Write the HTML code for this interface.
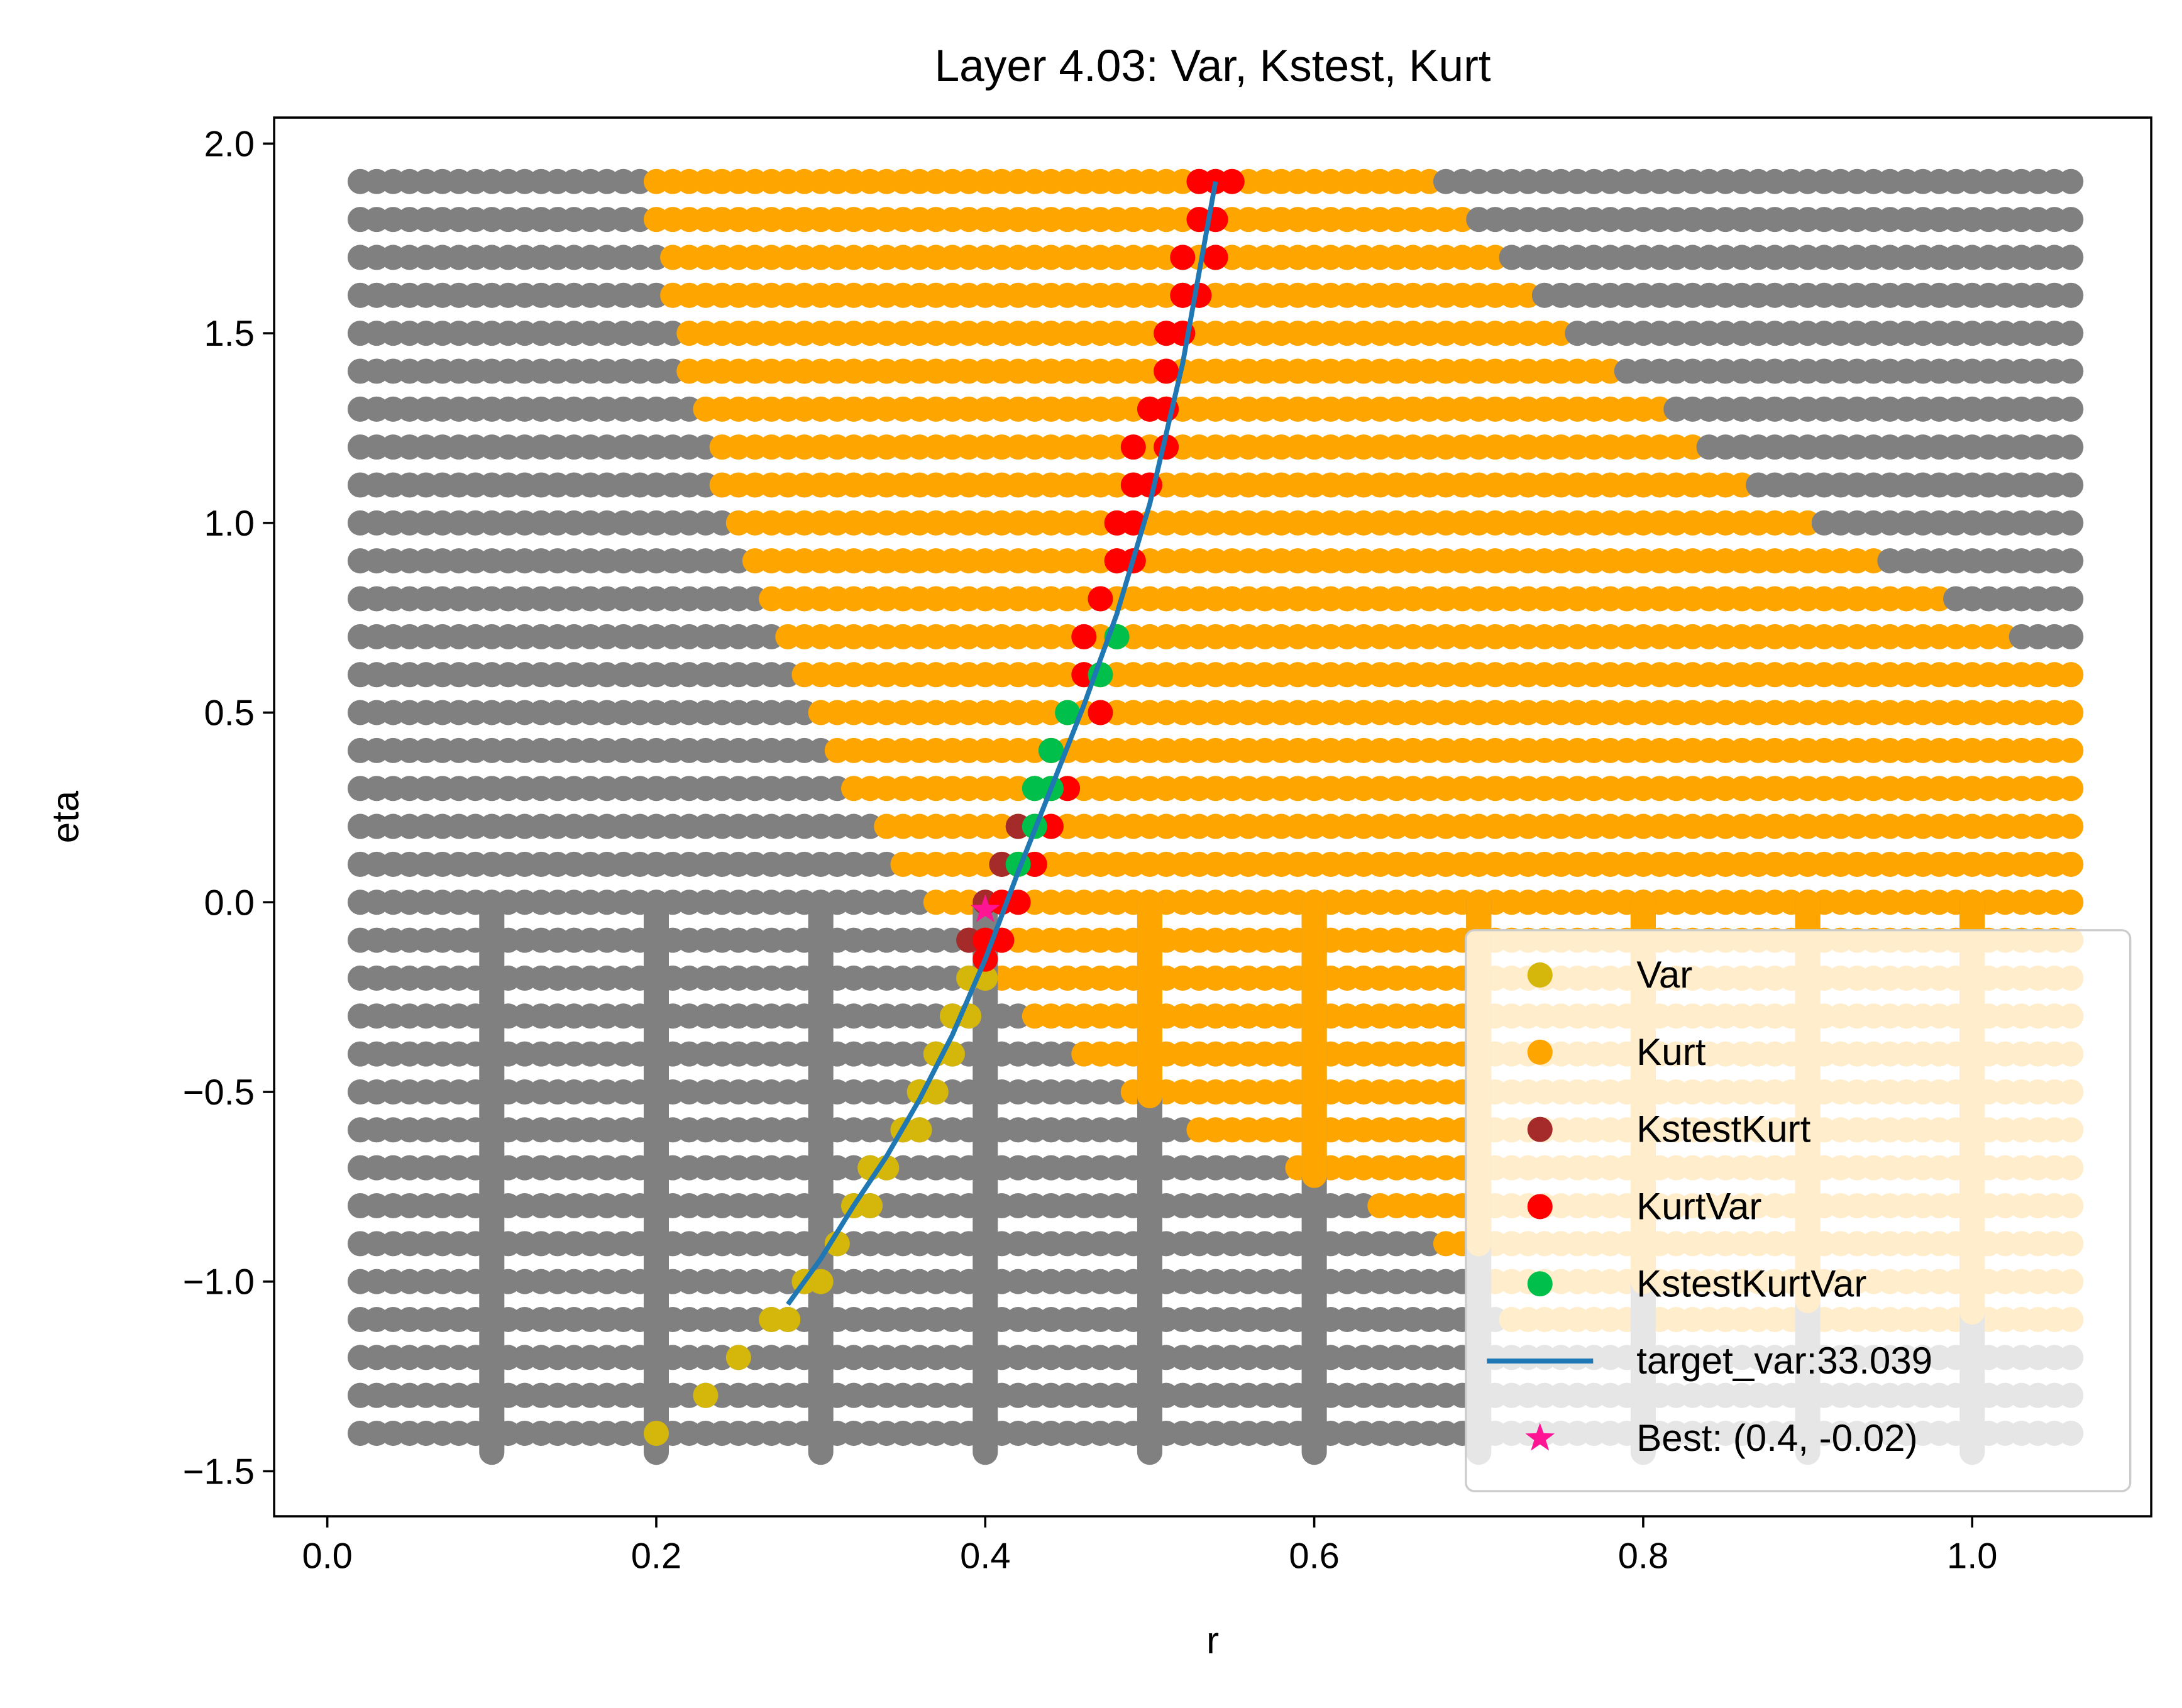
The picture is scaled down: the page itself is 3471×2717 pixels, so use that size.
<!DOCTYPE html>
<html><head><meta charset="utf-8"><style>html,body{margin:0;padding:0;background:#fff}svg{display:block}</style></head>
<body>
<svg id="chart" width="3471" height="2717" viewBox="0 0 1560 1221" xmlns="http://www.w3.org/2000/svg" font-family="Liberation Sans, DejaVu Sans, sans-serif">
<rect x="0" y="0" width="1560" height="1221" fill="#fff"/>
<g id="plot"></g>
<g id="axes"></g>
</svg>
<script>
// ---- data ----
const etaRows   = [1.9,1.8,1.7,1.6,1.5,1.4,1.3,1.2,1.1,1.0,0.9,0.8,0.7,0.6,0.5,0.4,0.3,0.2,0.1,0.0,-0.1,-0.2,-0.3,-0.4,-0.5,-0.6,-0.7,-0.8,-0.9,-1.0,-1.1,-1.2,-1.3,-1.4];
const kurtStart = [0.2,0.2,0.21,0.21,0.22,0.22,0.23,0.24,0.24,0.25,0.26,0.27,0.28,0.29,0.30,0.31,0.32,0.34,0.35,0.37,0.40,0.41,0.43,0.46,0.49,0.53,0.59,0.64,0.68,0.70,0.72,null,null,null];
const kurtEnd   = [0.67,0.69,0.71,0.73,0.75,0.78,0.81,0.83,0.86,0.90,0.94,0.98,1.02,1.06,1.06,1.06,1.06,1.06,1.06,1.06,1.06,1.06,1.06,1.06,1.06,1.06,1.06,1.06,1.06,1.06,1.06,null,null,null];
const columnsR  = [0.1,0.2,0.3,0.4,0.5,0.6,0.7,0.8,0.9,1.0];
const colOrangeMin = [null,null,null,null,-0.51,-0.72,-0.9,-1.0,-1.05,-1.08];
const varEta = [-1.4,-1.3,-1.2,-1.1,-1.1,-1.0,-1.0,-0.9,-0.8,-0.8,-0.7,-0.7,-0.6,-0.6,-0.5,-0.5,-0.4,-0.4,-0.3,-0.3,-0.2,-0.2];
const varR   = [0.2,0.23,0.25,0.27,0.28,0.29,0.30,0.31,0.32,0.33,0.33,0.34,0.35,0.36,0.36,0.37,0.37,0.38,0.38,0.39,0.39,0.40];
const redEta = [1.9,1.9,1.9,1.8,1.8,1.7,1.7,1.6,1.6,1.5,1.5,1.4,1.3,1.3,1.2,1.2,1.1,1.1,1.0,1.0,0.9,0.9,0.8,0.7,0.6,0.5,0.4,0.3,0.2,0.1,0.0,0.0,-0.1,-0.1,-0.15];
const redR   = [0.53,0.54,0.55,0.53,0.54,0.52,0.54,0.52,0.53,0.51,0.52,0.51,0.50,0.51,0.49,0.51,0.49,0.50,0.48,0.49,0.48,0.49,0.47,0.46,0.46,0.47,0.44,0.45,0.44,0.43,0.41,0.42,0.40,0.41,0.40];
const brownEta = [0.2,0.1,0.0,-0.1];
const brownR   = [0.42,0.41,0.40,0.39];
const greenEta = [0.7,0.6,0.5,0.4,0.3,0.3,0.2,0.1];
const greenR   = [0.48,0.47,0.45,0.44,0.43,0.44,0.43,0.42];
const lineR   = [0.28,0.30,0.32,0.34,0.36,0.38,0.40,0.42,0.44,0.46,0.48,0.50,0.52,0.54];
const lineEta = [-1.06,-0.94,-0.8,-0.67,-0.52,-0.35,-0.15,0.08,0.3,0.52,0.76,1.05,1.42,1.9];
const bestR = 0.4, bestEta = -0.02;
const xTicks = [0.0,0.2,0.4,0.6,0.8,1.0];
const yTicks = [-1.5,-1.0,-0.5,0.0,0.5,1.0,1.5,2.0];

// ---- axes functions ----
const X = r => 234 + r*1176;
const Y = e => 645 - e*271.2;
const NS = 'http://www.w3.org/2000/svg';
const plot = document.getElementById('plot');
const axes = document.getElementById('axes');
function mk(tag, attrs, parent){const el=document.createElementNS(NS,tag);for(const k in attrs)el.setAttribute(k,attrs[k]);parent.appendChild(el);return el;}
const R = 9;
function dot(r,e,color,g){return mk('circle',{cx:X(r),cy:Y(e),r:R,fill:color},g);}

const gridG = mk('g',{},plot);


etaRows.forEach((e,i)=>{
  for(let k=2;k<=106;k++){
    const r=k/100;
    const s=kurtStart[i], en=kurtEnd[i];
    const col=(s!==null && r>=s-1e-9 && r<=en+1e-9)?'#ffa500':'#808080';
    dot(r,e,col,gridG);
  }
});
const colG = mk('g',{},plot);


columnsR.forEach((r,i)=>{
  const bar=mk('rect',{x:X(r)-R,y:Y(0)-R,width:2*R,height:Y(-1.45)-Y(0)+2*R,rx:R,fill:'#808080'},colG);
  
  if(colOrangeMin[i]!==null){
    const ob=mk('rect',{x:X(r)-R,y:Y(0)-R,width:2*R,height:Y(colOrangeMin[i])-Y(0)+2*R,rx:R,fill:'#ffa500'},colG);
    
  }
});
function series(name,etas,rs,color){
  const g=mk('g',{},plot);
  
  
  etas.forEach((e,i)=>dot(rs[i],e,color,g));
}
series('var-points',varEta,varR,'#d4b70a');
series('kstestkurt-points',brownEta,brownR,'#a52a2a');
series('kurtvar-points',redEta,redR,'#ff0000');
series('kstestkurtvar-points',greenEta,greenR,'#00c04b');
const line=mk('polyline',{points:lineR.map((r,i)=>X(r)+','+Y(lineEta[i])).join(' '),fill:'none',stroke:'#1f77b4','stroke-width':3.5},plot);


function star(cx,cy,ro,parent){let p=[];for(let k=0;k<10;k++){const a=-Math.PI/2+k*Math.PI/5;const rr=k%2?ro*0.4:ro;p.push((cx+rr*Math.cos(a)).toFixed(1)+','+(cy+rr*Math.sin(a)).toFixed(1));}return mk('polygon',{points:p.join(' '),fill:'#ff1493'},parent);}
const bs=star(X(bestR),Y(bestEta),11,plot);



const frame=mk('rect',{x:196,y:84,width:1342,height:1000,fill:'none',stroke:'#000','stroke-width':1.6},axes);


xTicks.forEach(t=>{
  mk('line',{x1:X(t),x2:X(t),y1:1084,y2:1092,stroke:'#000','stroke-width':1.6},axes);
  const tx=mk('text',{x:X(t),y:1121,'font-size':26,'text-anchor':'middle'},axes);
  tx.textContent=t.toFixed(1);
  
  
});
yTicks.forEach(t=>{
  mk('line',{x1:188,x2:196,y1:Y(t),y2:Y(t),stroke:'#000','stroke-width':1.6},axes);
  const tx=mk('text',{x:182,y:Y(t)+9,'font-size':26,'text-anchor':'end'},axes);
  tx.textContent=(t<0?'\u2212':'')+Math.abs(t).toFixed(1);
  
  
});
const title=mk('text',{x:867,y:58,'font-size':32,'text-anchor':'middle'},axes);
title.textContent='Layer 4.03: Var, Kstest, Kurt';


const xl=mk('text',{x:867,y:1182,'font-size':27,'text-anchor':'middle'},axes);
xl.textContent='r';


const yl=mk('text',{x:56,y:584,'font-size':27,'text-anchor':'middle',transform:'rotate(-90 56 584)'},axes);
yl.textContent='eta';



const lg=mk('g',{},axes);


mk('rect',{x:1048,y:665,width:475,height:401,rx:6,fill:'#fff','fill-opacity':0.8,stroke:'#ccc','stroke-width':1.5},lg);
const entries=[['Var','#d4b70a','dot'],['Kurt','#ffa500','dot'],['KstestKurt','#a52a2a','dot'],['KurtVar','#ff0000','dot'],['KstestKurtVar','#00c04b','dot'],['target_var:33.039','#1f77b4','line'],['Best: (0.4, -0.02)','#ff1493','star']];
entries.forEach((en,i)=>{
  const y=697+i*55.2;
  const eg=mk('g',{},lg);
  
  
  if(en[2]==='dot')mk('circle',{cx:1101,cy:y,r:9,fill:en[1]},eg);
  else if(en[2]==='line')mk('line',{x1:1063,x2:1139,y1:y,y2:y,stroke:en[1],'stroke-width':3.5},eg);
  else star(1101,y,11,eg);
  const t=mk('text',{x:1170,y:y+9,'font-size':27},eg);
  t.textContent=en[0];
});
</script>
</body></html>
